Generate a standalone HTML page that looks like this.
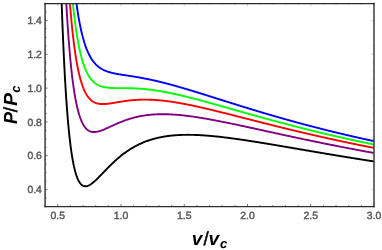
<!DOCTYPE html>
<html><head><meta charset="utf-8"><style>
html,body{margin:0;padding:0;background:#fff;}
svg{display:block;will-change:transform;}
text{font-family:"Liberation Sans",sans-serif;text-rendering:geometricPrecision;}
</style></head><body>
<svg width="382" height="250" viewBox="0 0 382 250">
<rect width="382" height="250" fill="#fff"/>
<defs><clipPath id="c"><rect x="45.1" y="3.55" width="328.9" height="203.0"/></clipPath></defs>
<g clip-path="url(#c)">
<path d="M59.83 -57.21 L60.48 -34.11 L61.12 -13.12 L61.77 5.97 L62.41 23.34 L63.06 39.14 L63.71 53.54 L64.35 66.64 L65.00 78.59 L65.65 89.46 L66.29 99.37 L66.94 108.39 L67.59 116.60 L68.23 124.08 L68.88 130.88 L69.53 137.06 L70.17 142.67 L70.82 147.76 L71.46 152.37 L72.11 156.55 L72.76 160.32 L73.40 163.72 L74.05 166.78 L74.70 169.53 L75.34 171.99 L75.99 174.18 L76.64 176.13 L77.28 177.85 L77.93 179.37 L78.58 180.70 L79.22 181.85 L79.87 182.84 L80.51 183.67 L81.16 184.38 L81.81 184.95 L82.45 185.41 L83.10 185.77 L83.75 186.02 L84.39 186.18 L85.04 186.26 L85.69 186.27 L86.33 186.20 L86.98 186.07 L87.63 185.89 L88.27 185.65 L88.92 185.35 L89.57 185.02 L90.21 184.64 L90.86 184.23 L91.50 183.78 L92.15 183.31 L92.80 182.80 L93.44 182.27 L94.09 181.72 L94.74 181.15 L95.38 180.56 L96.03 179.96 L96.68 179.34 L97.32 178.71 L97.97 178.07 L98.62 177.43 L99.26 176.77 L99.91 176.11 L100.55 175.44 L101.20 174.77 L101.85 174.10 L102.49 173.43 L103.14 172.75 L103.79 172.08 L104.43 171.40 L105.08 170.73 L105.73 170.06 L106.37 169.39 L107.02 168.73 L107.67 168.07 L108.31 167.41 L108.96 166.76 L109.60 166.11 L110.25 165.47 L110.90 164.84 L111.54 164.21 L112.19 163.58 L112.84 162.97 L113.48 162.36 L114.13 161.75 L114.78 161.16 L115.42 160.57 L116.07 159.98 L116.72 159.41 L117.36 158.84 L118.01 158.28 L118.66 157.73 L119.30 157.19 L119.95 156.65 L120.59 156.13 L121.24 155.61 L121.89 155.10 L122.53 154.59 L123.18 154.10 L123.83 153.61 L124.47 153.13 L125.12 152.66 L125.77 152.19 L126.41 151.74 L127.06 151.29 L127.71 150.85 L128.35 150.42 L129.00 149.99 L129.64 149.57 L130.29 149.16 L130.94 148.76 L131.58 148.37 L132.23 147.98 L132.88 147.60 L133.52 147.23 L134.17 146.86 L134.82 146.51 L135.46 146.16 L136.11 145.81 L136.76 145.47 L137.40 145.15 L138.05 144.82 L138.69 144.51 L139.34 144.20 L139.99 143.89 L140.63 143.60 L141.28 143.31 L141.93 143.02 L142.57 142.75 L143.22 142.48 L143.87 142.21 L144.51 141.95 L145.16 141.70 L145.81 141.45 L146.45 141.21 L147.10 140.98 L147.74 140.75 L148.39 140.52 L149.04 140.31 L149.68 140.09 L150.33 139.89 L150.98 139.68 L151.62 139.49 L152.27 139.29 L152.92 139.11 L153.56 138.93 L154.21 138.75 L154.86 138.58 L155.50 138.41 L156.15 138.25 L156.80 138.09 L157.44 137.94 L158.09 137.79 L158.73 137.64 L159.38 137.50 L160.03 137.37 L160.67 137.24 L161.32 137.11 L161.97 136.99 L162.61 136.87 L163.26 136.75 L163.91 136.64 L164.55 136.53 L165.20 136.43 L165.85 136.33 L166.49 136.24 L167.14 136.14 L167.78 136.06 L168.43 135.97 L169.08 135.89 L169.72 135.81 L170.37 135.74 L171.02 135.67 L171.66 135.60 L172.31 135.53 L172.96 135.47 L173.60 135.41 L174.25 135.36 L174.90 135.30 L175.54 135.25 L176.19 135.21 L176.83 135.16 L177.48 135.12 L178.13 135.09 L178.77 135.05 L179.42 135.02 L180.07 134.99 L180.71 134.96 L181.36 134.94 L182.01 134.91 L182.65 134.89 L183.30 134.88 L183.95 134.86 L184.59 134.85 L185.24 134.84 L185.89 134.83 L186.53 134.83 L187.18 134.82 L187.82 134.82 L188.47 134.82 L189.12 134.83 L189.76 134.83 L190.41 134.84 L191.06 134.85 L191.70 134.86 L192.35 134.87 L193.00 134.89 L193.64 134.90 L194.29 134.92 L194.94 134.94 L195.58 134.96 L196.23 134.99 L196.87 135.01 L197.52 135.04 L198.17 135.07 L198.81 135.10 L199.46 135.14 L200.11 135.17 L200.75 135.20 L201.40 135.24 L202.05 135.28 L202.69 135.32 L203.34 135.36 L203.99 135.41 L204.63 135.45 L205.28 135.50 L205.92 135.54 L206.57 135.59 L207.22 135.64 L207.86 135.69 L208.51 135.75 L209.16 135.80 L209.80 135.85 L210.45 135.91 L211.10 135.97 L211.74 136.03 L212.39 136.09 L213.04 136.15 L213.68 136.21 L214.33 136.27 L214.98 136.34 L215.62 136.40 L216.27 136.47 L216.91 136.53 L217.56 136.60 L218.21 136.67 L218.85 136.74 L219.50 136.81 L220.15 136.88 L220.79 136.96 L221.44 137.03 L222.09 137.10 L222.73 137.18 L223.38 137.26 L224.03 137.33 L224.67 137.41 L225.32 137.49 L225.96 137.57 L226.61 137.65 L227.26 137.73 L227.90 137.81 L228.55 137.89 L229.20 137.98 L229.84 138.06 L230.49 138.15 L231.14 138.23 L231.78 138.32 L232.43 138.40 L233.08 138.49 L233.72 138.58 L234.37 138.67 L235.01 138.76 L235.66 138.85 L236.31 138.94 L236.95 139.03 L237.60 139.12 L238.25 139.21 L238.89 139.30 L239.54 139.39 L240.19 139.49 L240.83 139.58 L241.48 139.68 L242.13 139.77 L242.77 139.87 L243.42 139.96 L244.06 140.06 L244.71 140.15 L245.36 140.25 L246.00 140.35 L246.65 140.45 L247.30 140.54 L247.94 140.64 L248.59 140.74 L249.24 140.84 L249.88 140.94 L250.53 141.04 L251.18 141.14 L251.82 141.24 L252.47 141.34 L253.12 141.44 L253.76 141.55 L254.41 141.65 L255.05 141.75 L255.70 141.85 L256.35 141.96 L256.99 142.06 L257.64 142.16 L258.29 142.27 L258.93 142.37 L259.58 142.48 L260.23 142.58 L260.87 142.69 L261.52 142.79 L262.17 142.90 L262.81 143.00 L263.46 143.11 L264.10 143.21 L264.75 143.32 L265.40 143.43 L266.04 143.53 L266.69 143.64 L267.34 143.75 L267.98 143.85 L268.63 143.96 L269.28 144.07 L269.92 144.17 L270.57 144.28 L271.22 144.39 L271.86 144.50 L272.51 144.61 L273.15 144.71 L273.80 144.82 L274.45 144.93 L275.09 145.04 L275.74 145.15 L276.39 145.26 L277.03 145.37 L277.68 145.48 L278.33 145.59 L278.97 145.70 L279.62 145.80 L280.27 145.91 L280.91 146.02 L281.56 146.13 L282.21 146.24 L282.85 146.35 L283.50 146.46 L284.14 146.57 L284.79 146.68 L285.44 146.79 L286.08 146.90 L286.73 147.01 L287.38 147.12 L288.02 147.23 L288.67 147.34 L289.32 147.45 L289.96 147.56 L290.61 147.68 L291.26 147.79 L291.90 147.90 L292.55 148.01 L293.19 148.12 L293.84 148.23 L294.49 148.34 L295.13 148.45 L295.78 148.56 L296.43 148.67 L297.07 148.78 L297.72 148.89 L298.37 149.00 L299.01 149.11 L299.66 149.22 L300.31 149.33 L300.95 149.44 L301.60 149.55 L302.24 149.66 L302.89 149.78 L303.54 149.89 L304.18 150.00 L304.83 150.11 L305.48 150.22 L306.12 150.33 L306.77 150.44 L307.42 150.55 L308.06 150.66 L308.71 150.77 L309.36 150.88 L310.00 150.99 L310.65 151.10 L311.30 151.21 L311.94 151.32 L312.59 151.43 L313.23 151.54 L313.88 151.65 L314.53 151.76 L315.17 151.87 L315.82 151.98 L316.47 152.09 L317.11 152.20 L317.76 152.30 L318.41 152.41 L319.05 152.52 L319.70 152.63 L320.35 152.74 L320.99 152.85 L321.64 152.96 L322.28 153.07 L322.93 153.18 L323.58 153.29 L324.22 153.39 L324.87 153.50 L325.52 153.61 L326.16 153.72 L326.81 153.83 L327.46 153.94 L328.10 154.04 L328.75 154.15 L329.40 154.26 L330.04 154.37 L330.69 154.48 L331.33 154.58 L331.98 154.69 L332.63 154.80 L333.27 154.91 L333.92 155.01 L334.57 155.12 L335.21 155.23 L335.86 155.34 L336.51 155.44 L337.15 155.55 L337.80 155.66 L338.45 155.76 L339.09 155.87 L339.74 155.97 L340.38 156.08 L341.03 156.19 L341.68 156.29 L342.32 156.40 L342.97 156.50 L343.62 156.61 L344.26 156.72 L344.91 156.82 L345.56 156.93 L346.20 157.03 L346.85 157.14 L347.50 157.24 L348.14 157.35 L348.79 157.45 L349.44 157.56 L350.08 157.66 L350.73 157.77 L351.37 157.87 L352.02 157.97 L352.67 158.08 L353.31 158.18 L353.96 158.29 L354.61 158.39 L355.25 158.49 L355.90 158.60 L356.55 158.70 L357.19 158.80 L357.84 158.91 L358.49 159.01 L359.13 159.11 L359.78 159.21 L360.42 159.32 L361.07 159.42 L361.72 159.52 L362.36 159.62 L363.01 159.73 L363.66 159.83 L364.30 159.93 L364.95 160.03 L365.60 160.13 L366.24 160.23 L366.89 160.33 L367.54 160.44 L368.18 160.54 L368.83 160.64 L369.47 160.74 L370.12 160.84 L370.77 160.94 L371.41 161.04 L372.06 161.14 L372.71 161.24 L373.35 161.34 L374.00 161.44" fill="none" stroke="#000000" stroke-width="1.9" stroke-linejoin="round"/>
<path d="M63.06 -68.96 L63.71 -51.98 L64.35 -36.41 L65.00 -22.12 L65.65 -8.99 L66.29 3.06 L66.94 14.14 L67.59 24.32 L68.23 33.69 L68.88 42.30 L69.53 50.22 L70.17 57.51 L70.82 64.21 L71.46 70.38 L72.11 76.05 L72.76 81.26 L73.40 86.05 L74.05 90.46 L74.70 94.50 L75.34 98.21 L75.99 101.62 L76.64 104.74 L77.28 107.60 L77.93 110.22 L78.58 112.61 L79.22 114.80 L79.87 116.79 L80.51 118.60 L81.16 120.25 L81.81 121.75 L82.45 123.10 L83.10 124.32 L83.75 125.42 L84.39 126.40 L85.04 127.28 L85.69 128.06 L86.33 128.76 L86.98 129.36 L87.63 129.90 L88.27 130.36 L88.92 130.75 L89.57 131.08 L90.21 131.36 L90.86 131.58 L91.50 131.75 L92.15 131.88 L92.80 131.97 L93.44 132.02 L94.09 132.03 L94.74 132.02 L95.38 131.97 L96.03 131.89 L96.68 131.79 L97.32 131.67 L97.97 131.53 L98.62 131.37 L99.26 131.19 L99.91 130.99 L100.55 130.78 L101.20 130.56 L101.85 130.33 L102.49 130.08 L103.14 129.83 L103.79 129.57 L104.43 129.30 L105.08 129.02 L105.73 128.74 L106.37 128.46 L107.02 128.17 L107.67 127.88 L108.31 127.59 L108.96 127.29 L109.60 126.99 L110.25 126.70 L110.90 126.40 L111.54 126.10 L112.19 125.80 L112.84 125.51 L113.48 125.21 L114.13 124.92 L114.78 124.63 L115.42 124.34 L116.07 124.05 L116.72 123.77 L117.36 123.49 L118.01 123.21 L118.66 122.93 L119.30 122.66 L119.95 122.39 L120.59 122.13 L121.24 121.87 L121.89 121.61 L122.53 121.36 L123.18 121.12 L123.83 120.87 L124.47 120.63 L125.12 120.40 L125.77 120.17 L126.41 119.94 L127.06 119.72 L127.71 119.51 L128.35 119.29 L129.00 119.09 L129.64 118.89 L130.29 118.69 L130.94 118.49 L131.58 118.31 L132.23 118.12 L132.88 117.94 L133.52 117.77 L134.17 117.60 L134.82 117.43 L135.46 117.27 L136.11 117.12 L136.76 116.97 L137.40 116.82 L138.05 116.68 L138.69 116.54 L139.34 116.41 L139.99 116.28 L140.63 116.15 L141.28 116.03 L141.93 115.92 L142.57 115.81 L143.22 115.70 L143.87 115.60 L144.51 115.50 L145.16 115.40 L145.81 115.31 L146.45 115.22 L147.10 115.14 L147.74 115.06 L148.39 114.99 L149.04 114.91 L149.68 114.85 L150.33 114.78 L150.98 114.72 L151.62 114.67 L152.27 114.61 L152.92 114.56 L153.56 114.52 L154.21 114.47 L154.86 114.44 L155.50 114.40 L156.15 114.37 L156.80 114.34 L157.44 114.31 L158.09 114.29 L158.73 114.27 L159.38 114.25 L160.03 114.24 L160.67 114.23 L161.32 114.22 L161.97 114.21 L162.61 114.21 L163.26 114.21 L163.91 114.22 L164.55 114.22 L165.20 114.23 L165.85 114.24 L166.49 114.26 L167.14 114.28 L167.78 114.29 L168.43 114.32 L169.08 114.34 L169.72 114.37 L170.37 114.40 L171.02 114.43 L171.66 114.46 L172.31 114.50 L172.96 114.54 L173.60 114.58 L174.25 114.62 L174.90 114.66 L175.54 114.71 L176.19 114.76 L176.83 114.81 L177.48 114.86 L178.13 114.92 L178.77 114.97 L179.42 115.03 L180.07 115.09 L180.71 115.15 L181.36 115.22 L182.01 115.28 L182.65 115.35 L183.30 115.42 L183.95 115.49 L184.59 115.56 L185.24 115.63 L185.89 115.71 L186.53 115.79 L187.18 115.87 L187.82 115.94 L188.47 116.03 L189.12 116.11 L189.76 116.19 L190.41 116.28 L191.06 116.37 L191.70 116.45 L192.35 116.54 L193.00 116.63 L193.64 116.73 L194.29 116.82 L194.94 116.91 L195.58 117.01 L196.23 117.11 L196.87 117.20 L197.52 117.30 L198.17 117.40 L198.81 117.51 L199.46 117.61 L200.11 117.71 L200.75 117.82 L201.40 117.92 L202.05 118.03 L202.69 118.14 L203.34 118.24 L203.99 118.35 L204.63 118.46 L205.28 118.57 L205.92 118.69 L206.57 118.80 L207.22 118.91 L207.86 119.03 L208.51 119.14 L209.16 119.26 L209.80 119.37 L210.45 119.49 L211.10 119.61 L211.74 119.73 L212.39 119.85 L213.04 119.97 L213.68 120.09 L214.33 120.21 L214.98 120.33 L215.62 120.46 L216.27 120.58 L216.91 120.70 L217.56 120.83 L218.21 120.95 L218.85 121.08 L219.50 121.21 L220.15 121.33 L220.79 121.46 L221.44 121.59 L222.09 121.72 L222.73 121.84 L223.38 121.97 L224.03 122.10 L224.67 122.23 L225.32 122.37 L225.96 122.50 L226.61 122.63 L227.26 122.76 L227.90 122.89 L228.55 123.02 L229.20 123.16 L229.84 123.29 L230.49 123.42 L231.14 123.56 L231.78 123.69 L232.43 123.83 L233.08 123.96 L233.72 124.10 L234.37 124.23 L235.01 124.37 L235.66 124.51 L236.31 124.64 L236.95 124.78 L237.60 124.92 L238.25 125.05 L238.89 125.19 L239.54 125.33 L240.19 125.47 L240.83 125.61 L241.48 125.74 L242.13 125.88 L242.77 126.02 L243.42 126.16 L244.06 126.30 L244.71 126.44 L245.36 126.58 L246.00 126.72 L246.65 126.86 L247.30 127.00 L247.94 127.14 L248.59 127.28 L249.24 127.42 L249.88 127.56 L250.53 127.70 L251.18 127.84 L251.82 127.98 L252.47 128.12 L253.12 128.26 L253.76 128.40 L254.41 128.54 L255.05 128.69 L255.70 128.83 L256.35 128.97 L256.99 129.11 L257.64 129.25 L258.29 129.39 L258.93 129.53 L259.58 129.68 L260.23 129.82 L260.87 129.96 L261.52 130.10 L262.17 130.24 L262.81 130.38 L263.46 130.53 L264.10 130.67 L264.75 130.81 L265.40 130.95 L266.04 131.09 L266.69 131.23 L267.34 131.38 L267.98 131.52 L268.63 131.66 L269.28 131.80 L269.92 131.94 L270.57 132.08 L271.22 132.23 L271.86 132.37 L272.51 132.51 L273.15 132.65 L273.80 132.79 L274.45 132.93 L275.09 133.07 L275.74 133.21 L276.39 133.36 L277.03 133.50 L277.68 133.64 L278.33 133.78 L278.97 133.92 L279.62 134.06 L280.27 134.20 L280.91 134.34 L281.56 134.48 L282.21 134.62 L282.85 134.76 L283.50 134.90 L284.14 135.04 L284.79 135.18 L285.44 135.32 L286.08 135.46 L286.73 135.60 L287.38 135.74 L288.02 135.88 L288.67 136.02 L289.32 136.16 L289.96 136.30 L290.61 136.44 L291.26 136.58 L291.90 136.72 L292.55 136.86 L293.19 136.99 L293.84 137.13 L294.49 137.27 L295.13 137.41 L295.78 137.55 L296.43 137.69 L297.07 137.82 L297.72 137.96 L298.37 138.10 L299.01 138.24 L299.66 138.37 L300.31 138.51 L300.95 138.65 L301.60 138.78 L302.24 138.92 L302.89 139.06 L303.54 139.19 L304.18 139.33 L304.83 139.47 L305.48 139.60 L306.12 139.74 L306.77 139.87 L307.42 140.01 L308.06 140.14 L308.71 140.28 L309.36 140.41 L310.00 140.55 L310.65 140.68 L311.30 140.82 L311.94 140.95 L312.59 141.09 L313.23 141.22 L313.88 141.35 L314.53 141.49 L315.17 141.62 L315.82 141.76 L316.47 141.89 L317.11 142.02 L317.76 142.15 L318.41 142.29 L319.05 142.42 L319.70 142.55 L320.35 142.68 L320.99 142.82 L321.64 142.95 L322.28 143.08 L322.93 143.21 L323.58 143.34 L324.22 143.47 L324.87 143.60 L325.52 143.73 L326.16 143.86 L326.81 143.99 L327.46 144.12 L328.10 144.25 L328.75 144.38 L329.40 144.51 L330.04 144.64 L330.69 144.77 L331.33 144.90 L331.98 145.03 L332.63 145.16 L333.27 145.29 L333.92 145.42 L334.57 145.54 L335.21 145.67 L335.86 145.80 L336.51 145.93 L337.15 146.05 L337.80 146.18 L338.45 146.31 L339.09 146.43 L339.74 146.56 L340.38 146.69 L341.03 146.81 L341.68 146.94 L342.32 147.06 L342.97 147.19 L343.62 147.32 L344.26 147.44 L344.91 147.57 L345.56 147.69 L346.20 147.81 L346.85 147.94 L347.50 148.06 L348.14 148.19 L348.79 148.31 L349.44 148.43 L350.08 148.56 L350.73 148.68 L351.37 148.80 L352.02 148.93 L352.67 149.05 L353.31 149.17 L353.96 149.29 L354.61 149.41 L355.25 149.54 L355.90 149.66 L356.55 149.78 L357.19 149.90 L357.84 150.02 L358.49 150.14 L359.13 150.26 L359.78 150.38 L360.42 150.50 L361.07 150.62 L361.72 150.74 L362.36 150.86 L363.01 150.98 L363.66 151.10 L364.30 151.22 L364.95 151.34 L365.60 151.46 L366.24 151.58 L366.89 151.69 L367.54 151.81 L368.18 151.93 L368.83 152.05 L369.47 152.16 L370.12 152.28 L370.77 152.40 L371.41 152.52 L372.06 152.63 L372.71 152.75 L373.35 152.86 L374.00 152.98" fill="none" stroke="#800080" stroke-width="1.9" stroke-linejoin="round"/>
<path d="M65.65 -68.07 L66.29 -54.72 L66.94 -42.41 L67.59 -31.05 L68.23 -20.55 L68.88 -10.85 L69.53 -1.88 L70.17 6.41 L70.82 14.08 L71.46 21.18 L72.11 27.75 L72.76 33.83 L73.40 39.45 L74.05 44.66 L74.70 49.48 L75.34 53.95 L75.99 58.08 L76.64 61.91 L77.28 65.45 L77.93 68.73 L78.58 71.76 L79.22 74.57 L79.87 77.16 L80.51 79.56 L81.16 81.78 L81.81 83.82 L82.45 85.71 L83.10 87.45 L83.75 89.05 L84.39 90.53 L85.04 91.89 L85.69 93.14 L86.33 94.29 L86.98 95.34 L87.63 96.30 L88.27 97.18 L88.92 97.98 L89.57 98.72 L90.21 99.38 L90.86 99.99 L91.50 100.53 L92.15 101.03 L92.80 101.47 L93.44 101.87 L94.09 102.22 L94.74 102.53 L95.38 102.81 L96.03 103.06 L96.68 103.27 L97.32 103.45 L97.97 103.60 L98.62 103.73 L99.26 103.84 L99.91 103.92 L100.55 103.99 L101.20 104.03 L101.85 104.06 L102.49 104.07 L103.14 104.07 L103.79 104.06 L104.43 104.04 L105.08 104.00 L105.73 103.95 L106.37 103.90 L107.02 103.84 L107.67 103.77 L108.31 103.69 L108.96 103.61 L109.60 103.52 L110.25 103.43 L110.90 103.34 L111.54 103.24 L112.19 103.13 L112.84 103.03 L113.48 102.92 L114.13 102.82 L114.78 102.71 L115.42 102.60 L116.07 102.49 L116.72 102.38 L117.36 102.27 L118.01 102.16 L118.66 102.05 L119.30 101.94 L119.95 101.84 L120.59 101.73 L121.24 101.63 L121.89 101.53 L122.53 101.43 L123.18 101.33 L123.83 101.23 L124.47 101.14 L125.12 101.04 L125.77 100.95 L126.41 100.87 L127.06 100.78 L127.71 100.70 L128.35 100.62 L129.00 100.55 L129.64 100.47 L130.29 100.40 L130.94 100.33 L131.58 100.27 L132.23 100.21 L132.88 100.15 L133.52 100.09 L134.17 100.04 L134.82 99.99 L135.46 99.95 L136.11 99.90 L136.76 99.86 L137.40 99.83 L138.05 99.79 L138.69 99.76 L139.34 99.73 L139.99 99.71 L140.63 99.69 L141.28 99.67 L141.93 99.65 L142.57 99.64 L143.22 99.63 L143.87 99.63 L144.51 99.62 L145.16 99.62 L145.81 99.62 L146.45 99.63 L147.10 99.64 L147.74 99.65 L148.39 99.66 L149.04 99.68 L149.68 99.70 L150.33 99.72 L150.98 99.75 L151.62 99.77 L152.27 99.80 L152.92 99.84 L153.56 99.87 L154.21 99.91 L154.86 99.95 L155.50 99.99 L156.15 100.04 L156.80 100.09 L157.44 100.14 L158.09 100.19 L158.73 100.24 L159.38 100.30 L160.03 100.36 L160.67 100.42 L161.32 100.49 L161.97 100.55 L162.61 100.62 L163.26 100.69 L163.91 100.76 L164.55 100.84 L165.20 100.91 L165.85 100.99 L166.49 101.07 L167.14 101.15 L167.78 101.24 L168.43 101.32 L169.08 101.41 L169.72 101.50 L170.37 101.59 L171.02 101.68 L171.66 101.78 L172.31 101.88 L172.96 101.97 L173.60 102.07 L174.25 102.17 L174.90 102.28 L175.54 102.38 L176.19 102.49 L176.83 102.59 L177.48 102.70 L178.13 102.81 L178.77 102.93 L179.42 103.04 L180.07 103.15 L180.71 103.27 L181.36 103.38 L182.01 103.50 L182.65 103.62 L183.30 103.74 L183.95 103.86 L184.59 103.99 L185.24 104.11 L185.89 104.24 L186.53 104.36 L187.18 104.49 L187.82 104.62 L188.47 104.75 L189.12 104.88 L189.76 105.01 L190.41 105.14 L191.06 105.28 L191.70 105.41 L192.35 105.55 L193.00 105.68 L193.64 105.82 L194.29 105.96 L194.94 106.10 L195.58 106.24 L196.23 106.38 L196.87 106.52 L197.52 106.66 L198.17 106.80 L198.81 106.95 L199.46 107.09 L200.11 107.24 L200.75 107.38 L201.40 107.53 L202.05 107.68 L202.69 107.82 L203.34 107.97 L203.99 108.12 L204.63 108.27 L205.28 108.42 L205.92 108.57 L206.57 108.72 L207.22 108.87 L207.86 109.03 L208.51 109.18 L209.16 109.33 L209.80 109.49 L210.45 109.64 L211.10 109.80 L211.74 109.95 L212.39 110.11 L213.04 110.26 L213.68 110.42 L214.33 110.57 L214.98 110.73 L215.62 110.89 L216.27 111.05 L216.91 111.21 L217.56 111.36 L218.21 111.52 L218.85 111.68 L219.50 111.84 L220.15 112.00 L220.79 112.16 L221.44 112.32 L222.09 112.48 L222.73 112.64 L223.38 112.81 L224.03 112.97 L224.67 113.13 L225.32 113.29 L225.96 113.45 L226.61 113.61 L227.26 113.78 L227.90 113.94 L228.55 114.10 L229.20 114.27 L229.84 114.43 L230.49 114.59 L231.14 114.76 L231.78 114.92 L232.43 115.08 L233.08 115.25 L233.72 115.41 L234.37 115.57 L235.01 115.74 L235.66 115.90 L236.31 116.07 L236.95 116.23 L237.60 116.40 L238.25 116.56 L238.89 116.73 L239.54 116.89 L240.19 117.06 L240.83 117.22 L241.48 117.39 L242.13 117.55 L242.77 117.72 L243.42 117.88 L244.06 118.05 L244.71 118.21 L245.36 118.38 L246.00 118.54 L246.65 118.70 L247.30 118.87 L247.94 119.03 L248.59 119.20 L249.24 119.36 L249.88 119.53 L250.53 119.69 L251.18 119.86 L251.82 120.02 L252.47 120.19 L253.12 120.35 L253.76 120.52 L254.41 120.68 L255.05 120.85 L255.70 121.01 L256.35 121.18 L256.99 121.34 L257.64 121.50 L258.29 121.67 L258.93 121.83 L259.58 122.00 L260.23 122.16 L260.87 122.32 L261.52 122.49 L262.17 122.65 L262.81 122.81 L263.46 122.98 L264.10 123.14 L264.75 123.30 L265.40 123.47 L266.04 123.63 L266.69 123.79 L267.34 123.95 L267.98 124.12 L268.63 124.28 L269.28 124.44 L269.92 124.60 L270.57 124.76 L271.22 124.93 L271.86 125.09 L272.51 125.25 L273.15 125.41 L273.80 125.57 L274.45 125.73 L275.09 125.89 L275.74 126.05 L276.39 126.21 L277.03 126.37 L277.68 126.53 L278.33 126.69 L278.97 126.85 L279.62 127.01 L280.27 127.17 L280.91 127.33 L281.56 127.49 L282.21 127.65 L282.85 127.81 L283.50 127.97 L284.14 128.13 L284.79 128.28 L285.44 128.44 L286.08 128.60 L286.73 128.76 L287.38 128.91 L288.02 129.07 L288.67 129.23 L289.32 129.38 L289.96 129.54 L290.61 129.70 L291.26 129.85 L291.90 130.01 L292.55 130.17 L293.19 130.32 L293.84 130.48 L294.49 130.63 L295.13 130.79 L295.78 130.94 L296.43 131.10 L297.07 131.25 L297.72 131.40 L298.37 131.56 L299.01 131.71 L299.66 131.86 L300.31 132.02 L300.95 132.17 L301.60 132.32 L302.24 132.47 L302.89 132.63 L303.54 132.78 L304.18 132.93 L304.83 133.08 L305.48 133.23 L306.12 133.38 L306.77 133.54 L307.42 133.69 L308.06 133.84 L308.71 133.99 L309.36 134.14 L310.00 134.29 L310.65 134.44 L311.30 134.58 L311.94 134.73 L312.59 134.88 L313.23 135.03 L313.88 135.18 L314.53 135.33 L315.17 135.48 L315.82 135.62 L316.47 135.77 L317.11 135.92 L317.76 136.06 L318.41 136.21 L319.05 136.36 L319.70 136.50 L320.35 136.65 L320.99 136.79 L321.64 136.94 L322.28 137.08 L322.93 137.23 L323.58 137.37 L324.22 137.52 L324.87 137.66 L325.52 137.81 L326.16 137.95 L326.81 138.09 L327.46 138.24 L328.10 138.38 L328.75 138.52 L329.40 138.67 L330.04 138.81 L330.69 138.95 L331.33 139.09 L331.98 139.23 L332.63 139.37 L333.27 139.52 L333.92 139.66 L334.57 139.80 L335.21 139.94 L335.86 140.08 L336.51 140.22 L337.15 140.36 L337.80 140.50 L338.45 140.63 L339.09 140.77 L339.74 140.91 L340.38 141.05 L341.03 141.19 L341.68 141.33 L342.32 141.46 L342.97 141.60 L343.62 141.74 L344.26 141.87 L344.91 142.01 L345.56 142.15 L346.20 142.28 L346.85 142.42 L347.50 142.55 L348.14 142.69 L348.79 142.83 L349.44 142.96 L350.08 143.09 L350.73 143.23 L351.37 143.36 L352.02 143.50 L352.67 143.63 L353.31 143.76 L353.96 143.90 L354.61 144.03 L355.25 144.16 L355.90 144.30 L356.55 144.43 L357.19 144.56 L357.84 144.69 L358.49 144.82 L359.13 144.95 L359.78 145.08 L360.42 145.22 L361.07 145.35 L361.72 145.48 L362.36 145.61 L363.01 145.74 L363.66 145.87 L364.30 146.00 L364.95 146.12 L365.60 146.25 L366.24 146.38 L366.89 146.51 L367.54 146.64 L368.18 146.77 L368.83 146.89 L369.47 147.02 L370.12 147.15 L370.77 147.27 L371.41 147.40 L372.06 147.53 L372.71 147.65 L373.35 147.78 L374.00 147.91" fill="none" stroke="#ff0000" stroke-width="1.9" stroke-linejoin="round"/>
<path d="M66.94 -80.11 L67.59 -67.96 L68.23 -56.70 L68.88 -46.28 L69.53 -36.61 L70.17 -27.65 L70.82 -19.34 L71.46 -11.62 L72.11 -4.45 L72.76 2.20 L73.40 8.39 L74.05 14.13 L74.70 19.47 L75.34 24.44 L75.99 29.06 L76.64 33.36 L77.28 37.35 L77.93 41.07 L78.58 44.53 L79.22 47.75 L79.87 50.74 L80.51 53.53 L81.16 56.12 L81.81 58.54 L82.45 60.78 L83.10 62.87 L83.75 64.81 L84.39 66.62 L85.04 68.30 L85.69 69.86 L86.33 71.31 L86.98 72.65 L87.63 73.90 L88.27 75.07 L88.92 76.14 L89.57 77.14 L90.21 78.07 L90.86 78.93 L91.50 79.72 L92.15 80.46 L92.80 81.14 L93.44 81.77 L94.09 82.35 L94.74 82.88 L95.38 83.37 L96.03 83.83 L96.68 84.25 L97.32 84.63 L97.97 84.98 L98.62 85.31 L99.26 85.60 L99.91 85.87 L100.55 86.12 L101.20 86.35 L101.85 86.55 L102.49 86.74 L103.14 86.91 L103.79 87.06 L104.43 87.19 L105.08 87.32 L105.73 87.43 L106.37 87.53 L107.02 87.61 L107.67 87.69 L108.31 87.76 L108.96 87.82 L109.60 87.87 L110.25 87.92 L110.90 87.96 L111.54 87.99 L112.19 88.02 L112.84 88.05 L113.48 88.07 L114.13 88.08 L114.78 88.10 L115.42 88.11 L116.07 88.12 L116.72 88.12 L117.36 88.13 L118.01 88.13 L118.66 88.13 L119.30 88.13 L119.95 88.13 L120.59 88.13 L121.24 88.13 L121.89 88.13 L122.53 88.13 L123.18 88.13 L123.83 88.14 L124.47 88.14 L125.12 88.14 L125.77 88.15 L126.41 88.15 L127.06 88.16 L127.71 88.16 L128.35 88.17 L129.00 88.19 L129.64 88.20 L130.29 88.21 L130.94 88.23 L131.58 88.25 L132.23 88.27 L132.88 88.29 L133.52 88.31 L134.17 88.34 L134.82 88.36 L135.46 88.39 L136.11 88.43 L136.76 88.46 L137.40 88.50 L138.05 88.53 L138.69 88.58 L139.34 88.62 L139.99 88.66 L140.63 88.71 L141.28 88.76 L141.93 88.81 L142.57 88.86 L143.22 88.92 L143.87 88.98 L144.51 89.04 L145.16 89.10 L145.81 89.17 L146.45 89.23 L147.10 89.30 L147.74 89.37 L148.39 89.45 L149.04 89.52 L149.68 89.60 L150.33 89.68 L150.98 89.76 L151.62 89.85 L152.27 89.93 L152.92 90.02 L153.56 90.11 L154.21 90.20 L154.86 90.29 L155.50 90.39 L156.15 90.49 L156.80 90.59 L157.44 90.69 L158.09 90.79 L158.73 90.89 L159.38 91.00 L160.03 91.11 L160.67 91.22 L161.32 91.33 L161.97 91.44 L162.61 91.56 L163.26 91.67 L163.91 91.79 L164.55 91.91 L165.20 92.03 L165.85 92.16 L166.49 92.28 L167.14 92.41 L167.78 92.53 L168.43 92.66 L169.08 92.79 L169.72 92.92 L170.37 93.06 L171.02 93.19 L171.66 93.33 L172.31 93.46 L172.96 93.60 L173.60 93.74 L174.25 93.88 L174.90 94.02 L175.54 94.16 L176.19 94.31 L176.83 94.45 L177.48 94.60 L178.13 94.75 L178.77 94.89 L179.42 95.04 L180.07 95.19 L180.71 95.34 L181.36 95.50 L182.01 95.65 L182.65 95.80 L183.30 95.96 L183.95 96.12 L184.59 96.27 L185.24 96.43 L185.89 96.59 L186.53 96.75 L187.18 96.91 L187.82 97.07 L188.47 97.23 L189.12 97.39 L189.76 97.56 L190.41 97.72 L191.06 97.88 L191.70 98.05 L192.35 98.22 L193.00 98.38 L193.64 98.55 L194.29 98.72 L194.94 98.89 L195.58 99.06 L196.23 99.22 L196.87 99.40 L197.52 99.57 L198.17 99.74 L198.81 99.91 L199.46 100.08 L200.11 100.25 L200.75 100.43 L201.40 100.60 L202.05 100.77 L202.69 100.95 L203.34 101.12 L203.99 101.30 L204.63 101.48 L205.28 101.65 L205.92 101.83 L206.57 102.01 L207.22 102.18 L207.86 102.36 L208.51 102.54 L209.16 102.72 L209.80 102.89 L210.45 103.07 L211.10 103.25 L211.74 103.43 L212.39 103.61 L213.04 103.79 L213.68 103.97 L214.33 104.15 L214.98 104.33 L215.62 104.51 L216.27 104.69 L216.91 104.87 L217.56 105.06 L218.21 105.24 L218.85 105.42 L219.50 105.60 L220.15 105.78 L220.79 105.96 L221.44 106.15 L222.09 106.33 L222.73 106.51 L223.38 106.69 L224.03 106.88 L224.67 107.06 L225.32 107.24 L225.96 107.42 L226.61 107.61 L227.26 107.79 L227.90 107.97 L228.55 108.15 L229.20 108.34 L229.84 108.52 L230.49 108.70 L231.14 108.89 L231.78 109.07 L232.43 109.25 L233.08 109.44 L233.72 109.62 L234.37 109.80 L235.01 109.99 L235.66 110.17 L236.31 110.35 L236.95 110.53 L237.60 110.72 L238.25 110.90 L238.89 111.08 L239.54 111.27 L240.19 111.45 L240.83 111.63 L241.48 111.81 L242.13 112.00 L242.77 112.18 L243.42 112.36 L244.06 112.54 L244.71 112.72 L245.36 112.91 L246.00 113.09 L246.65 113.27 L247.30 113.45 L247.94 113.63 L248.59 113.81 L249.24 114.00 L249.88 114.18 L250.53 114.36 L251.18 114.54 L251.82 114.72 L252.47 114.90 L253.12 115.08 L253.76 115.26 L254.41 115.44 L255.05 115.62 L255.70 115.80 L256.35 115.98 L256.99 116.16 L257.64 116.34 L258.29 116.52 L258.93 116.70 L259.58 116.88 L260.23 117.05 L260.87 117.23 L261.52 117.41 L262.17 117.59 L262.81 117.77 L263.46 117.94 L264.10 118.12 L264.75 118.30 L265.40 118.48 L266.04 118.65 L266.69 118.83 L267.34 119.01 L267.98 119.18 L268.63 119.36 L269.28 119.53 L269.92 119.71 L270.57 119.89 L271.22 120.06 L271.86 120.24 L272.51 120.41 L273.15 120.58 L273.80 120.76 L274.45 120.93 L275.09 121.11 L275.74 121.28 L276.39 121.45 L277.03 121.63 L277.68 121.80 L278.33 121.97 L278.97 122.14 L279.62 122.32 L280.27 122.49 L280.91 122.66 L281.56 122.83 L282.21 123.00 L282.85 123.17 L283.50 123.34 L284.14 123.51 L284.79 123.68 L285.44 123.85 L286.08 124.02 L286.73 124.19 L287.38 124.36 L288.02 124.53 L288.67 124.70 L289.32 124.87 L289.96 125.04 L290.61 125.20 L291.26 125.37 L291.90 125.54 L292.55 125.71 L293.19 125.87 L293.84 126.04 L294.49 126.20 L295.13 126.37 L295.78 126.54 L296.43 126.70 L297.07 126.87 L297.72 127.03 L298.37 127.20 L299.01 127.36 L299.66 127.52 L300.31 127.69 L300.95 127.85 L301.60 128.01 L302.24 128.18 L302.89 128.34 L303.54 128.50 L304.18 128.66 L304.83 128.83 L305.48 128.99 L306.12 129.15 L306.77 129.31 L307.42 129.47 L308.06 129.63 L308.71 129.79 L309.36 129.95 L310.00 130.11 L310.65 130.27 L311.30 130.43 L311.94 130.59 L312.59 130.75 L313.23 130.90 L313.88 131.06 L314.53 131.22 L315.17 131.38 L315.82 131.53 L316.47 131.69 L317.11 131.85 L317.76 132.00 L318.41 132.16 L319.05 132.32 L319.70 132.47 L320.35 132.63 L320.99 132.78 L321.64 132.93 L322.28 133.09 L322.93 133.24 L323.58 133.40 L324.22 133.55 L324.87 133.70 L325.52 133.86 L326.16 134.01 L326.81 134.16 L327.46 134.31 L328.10 134.46 L328.75 134.62 L329.40 134.77 L330.04 134.92 L330.69 135.07 L331.33 135.22 L331.98 135.37 L332.63 135.52 L333.27 135.67 L333.92 135.82 L334.57 135.97 L335.21 136.11 L335.86 136.26 L336.51 136.41 L337.15 136.56 L337.80 136.71 L338.45 136.85 L339.09 137.00 L339.74 137.15 L340.38 137.29 L341.03 137.44 L341.68 137.58 L342.32 137.73 L342.97 137.87 L343.62 138.02 L344.26 138.16 L344.91 138.31 L345.56 138.45 L346.20 138.60 L346.85 138.74 L347.50 138.88 L348.14 139.03 L348.79 139.17 L349.44 139.31 L350.08 139.45 L350.73 139.60 L351.37 139.74 L352.02 139.88 L352.67 140.02 L353.31 140.16 L353.96 140.30 L354.61 140.44 L355.25 140.58 L355.90 140.72 L356.55 140.86 L357.19 141.00 L357.84 141.14 L358.49 141.28 L359.13 141.41 L359.78 141.55 L360.42 141.69 L361.07 141.83 L361.72 141.97 L362.36 142.10 L363.01 142.24 L363.66 142.38 L364.30 142.51 L364.95 142.65 L365.60 142.78 L366.24 142.92 L366.89 143.05 L367.54 143.19 L368.18 143.32 L368.83 143.46 L369.47 143.59 L370.12 143.73 L370.77 143.86 L371.41 143.99 L372.06 144.12 L372.71 144.26 L373.35 144.39 L374.00 144.52" fill="none" stroke="#00ff00" stroke-width="1.9" stroke-linejoin="round"/>
<path d="M69.53 -71.35 L70.17 -61.71 L70.82 -52.75 L71.46 -44.42 L72.11 -36.65 L72.76 -29.42 L73.40 -22.68 L74.05 -16.40 L74.70 -10.54 L75.34 -5.07 L75.99 0.04 L76.64 4.80 L77.28 9.25 L77.93 13.41 L78.58 17.30 L79.22 20.93 L79.87 24.33 L80.51 27.50 L81.16 30.47 L81.81 33.25 L82.45 35.86 L83.10 38.29 L83.75 40.57 L84.39 42.70 L85.04 44.70 L85.69 46.57 L86.33 48.33 L86.98 49.97 L87.63 51.51 L88.27 52.95 L88.92 54.30 L89.57 55.57 L90.21 56.75 L90.86 57.87 L91.50 58.91 L92.15 59.89 L92.80 60.80 L93.44 61.66 L94.09 62.47 L94.74 63.23 L95.38 63.94 L96.03 64.60 L96.68 65.23 L97.32 65.82 L97.97 66.37 L98.62 66.88 L99.26 67.37 L99.91 67.83 L100.55 68.26 L101.20 68.66 L101.85 69.04 L102.49 69.40 L103.14 69.74 L103.79 70.05 L104.43 70.35 L105.08 70.63 L105.73 70.90 L106.37 71.15 L107.02 71.39 L107.67 71.62 L108.31 71.83 L108.96 72.03 L109.60 72.23 L110.25 72.41 L110.90 72.58 L111.54 72.75 L112.19 72.91 L112.84 73.06 L113.48 73.21 L114.13 73.35 L114.78 73.49 L115.42 73.62 L116.07 73.74 L116.72 73.86 L117.36 73.98 L118.01 74.10 L118.66 74.21 L119.30 74.32 L119.95 74.43 L120.59 74.53 L121.24 74.64 L121.89 74.74 L122.53 74.84 L123.18 74.94 L123.83 75.04 L124.47 75.14 L125.12 75.24 L125.77 75.34 L126.41 75.43 L127.06 75.53 L127.71 75.63 L128.35 75.73 L129.00 75.82 L129.64 75.92 L130.29 76.02 L130.94 76.12 L131.58 76.22 L132.23 76.32 L132.88 76.42 L133.52 76.53 L134.17 76.63 L134.82 76.74 L135.46 76.84 L136.11 76.95 L136.76 77.06 L137.40 77.17 L138.05 77.28 L138.69 77.39 L139.34 77.50 L139.99 77.62 L140.63 77.73 L141.28 77.85 L141.93 77.97 L142.57 78.09 L143.22 78.21 L143.87 78.33 L144.51 78.46 L145.16 78.58 L145.81 78.71 L146.45 78.84 L147.10 78.97 L147.74 79.10 L148.39 79.23 L149.04 79.37 L149.68 79.50 L150.33 79.64 L150.98 79.78 L151.62 79.92 L152.27 80.06 L152.92 80.20 L153.56 80.34 L154.21 80.49 L154.86 80.64 L155.50 80.78 L156.15 80.93 L156.80 81.08 L157.44 81.24 L158.09 81.39 L158.73 81.54 L159.38 81.70 L160.03 81.86 L160.67 82.01 L161.32 82.17 L161.97 82.33 L162.61 82.50 L163.26 82.66 L163.91 82.82 L164.55 82.99 L165.20 83.15 L165.85 83.32 L166.49 83.49 L167.14 83.66 L167.78 83.83 L168.43 84.00 L169.08 84.17 L169.72 84.35 L170.37 84.52 L171.02 84.69 L171.66 84.87 L172.31 85.05 L172.96 85.23 L173.60 85.40 L174.25 85.58 L174.90 85.76 L175.54 85.95 L176.19 86.13 L176.83 86.31 L177.48 86.49 L178.13 86.68 L178.77 86.86 L179.42 87.05 L180.07 87.23 L180.71 87.42 L181.36 87.61 L182.01 87.80 L182.65 87.99 L183.30 88.18 L183.95 88.37 L184.59 88.56 L185.24 88.75 L185.89 88.94 L186.53 89.13 L187.18 89.32 L187.82 89.52 L188.47 89.71 L189.12 89.91 L189.76 90.10 L190.41 90.30 L191.06 90.49 L191.70 90.69 L192.35 90.89 L193.00 91.08 L193.64 91.28 L194.29 91.48 L194.94 91.68 L195.58 91.87 L196.23 92.07 L196.87 92.27 L197.52 92.47 L198.17 92.67 L198.81 92.87 L199.46 93.07 L200.11 93.27 L200.75 93.47 L201.40 93.67 L202.05 93.87 L202.69 94.08 L203.34 94.28 L203.99 94.48 L204.63 94.68 L205.28 94.88 L205.92 95.09 L206.57 95.29 L207.22 95.49 L207.86 95.69 L208.51 95.90 L209.16 96.10 L209.80 96.30 L210.45 96.51 L211.10 96.71 L211.74 96.91 L212.39 97.12 L213.04 97.32 L213.68 97.52 L214.33 97.73 L214.98 97.93 L215.62 98.13 L216.27 98.34 L216.91 98.54 L217.56 98.75 L218.21 98.95 L218.85 99.15 L219.50 99.36 L220.15 99.56 L220.79 99.77 L221.44 99.97 L222.09 100.17 L222.73 100.38 L223.38 100.58 L224.03 100.78 L224.67 100.99 L225.32 101.19 L225.96 101.39 L226.61 101.60 L227.26 101.80 L227.90 102.00 L228.55 102.21 L229.20 102.41 L229.84 102.61 L230.49 102.82 L231.14 103.02 L231.78 103.22 L232.43 103.42 L233.08 103.63 L233.72 103.83 L234.37 104.03 L235.01 104.23 L235.66 104.43 L236.31 104.63 L236.95 104.84 L237.60 105.04 L238.25 105.24 L238.89 105.44 L239.54 105.64 L240.19 105.84 L240.83 106.04 L241.48 106.24 L242.13 106.44 L242.77 106.64 L243.42 106.84 L244.06 107.04 L244.71 107.24 L245.36 107.44 L246.00 107.64 L246.65 107.83 L247.30 108.03 L247.94 108.23 L248.59 108.43 L249.24 108.63 L249.88 108.82 L250.53 109.02 L251.18 109.22 L251.82 109.41 L252.47 109.61 L253.12 109.81 L253.76 110.00 L254.41 110.20 L255.05 110.39 L255.70 110.59 L256.35 110.78 L256.99 110.98 L257.64 111.17 L258.29 111.37 L258.93 111.56 L259.58 111.76 L260.23 111.95 L260.87 112.14 L261.52 112.34 L262.17 112.53 L262.81 112.72 L263.46 112.91 L264.10 113.10 L264.75 113.30 L265.40 113.49 L266.04 113.68 L266.69 113.87 L267.34 114.06 L267.98 114.25 L268.63 114.44 L269.28 114.63 L269.92 114.82 L270.57 115.01 L271.22 115.19 L271.86 115.38 L272.51 115.57 L273.15 115.76 L273.80 115.95 L274.45 116.13 L275.09 116.32 L275.74 116.51 L276.39 116.69 L277.03 116.88 L277.68 117.06 L278.33 117.25 L278.97 117.43 L279.62 117.62 L280.27 117.80 L280.91 117.99 L281.56 118.17 L282.21 118.35 L282.85 118.54 L283.50 118.72 L284.14 118.90 L284.79 119.08 L285.44 119.27 L286.08 119.45 L286.73 119.63 L287.38 119.81 L288.02 119.99 L288.67 120.17 L289.32 120.35 L289.96 120.53 L290.61 120.71 L291.26 120.89 L291.90 121.07 L292.55 121.24 L293.19 121.42 L293.84 121.60 L294.49 121.78 L295.13 121.95 L295.78 122.13 L296.43 122.31 L297.07 122.48 L297.72 122.66 L298.37 122.83 L299.01 123.01 L299.66 123.18 L300.31 123.36 L300.95 123.53 L301.60 123.71 L302.24 123.88 L302.89 124.05 L303.54 124.23 L304.18 124.40 L304.83 124.57 L305.48 124.74 L306.12 124.91 L306.77 125.08 L307.42 125.26 L308.06 125.43 L308.71 125.60 L309.36 125.77 L310.00 125.94 L310.65 126.10 L311.30 126.27 L311.94 126.44 L312.59 126.61 L313.23 126.78 L313.88 126.95 L314.53 127.11 L315.17 127.28 L315.82 127.45 L316.47 127.61 L317.11 127.78 L317.76 127.94 L318.41 128.11 L319.05 128.27 L319.70 128.44 L320.35 128.60 L320.99 128.77 L321.64 128.93 L322.28 129.09 L322.93 129.26 L323.58 129.42 L324.22 129.58 L324.87 129.74 L325.52 129.90 L326.16 130.07 L326.81 130.23 L327.46 130.39 L328.10 130.55 L328.75 130.71 L329.40 130.87 L330.04 131.03 L330.69 131.19 L331.33 131.34 L331.98 131.50 L332.63 131.66 L333.27 131.82 L333.92 131.98 L334.57 132.13 L335.21 132.29 L335.86 132.45 L336.51 132.60 L337.15 132.76 L337.80 132.92 L338.45 133.07 L339.09 133.23 L339.74 133.38 L340.38 133.53 L341.03 133.69 L341.68 133.84 L342.32 134.00 L342.97 134.15 L343.62 134.30 L344.26 134.45 L344.91 134.61 L345.56 134.76 L346.20 134.91 L346.85 135.06 L347.50 135.21 L348.14 135.36 L348.79 135.51 L349.44 135.66 L350.08 135.81 L350.73 135.96 L351.37 136.11 L352.02 136.26 L352.67 136.41 L353.31 136.56 L353.96 136.70 L354.61 136.85 L355.25 137.00 L355.90 137.15 L356.55 137.29 L357.19 137.44 L357.84 137.58 L358.49 137.73 L359.13 137.88 L359.78 138.02 L360.42 138.17 L361.07 138.31 L361.72 138.45 L362.36 138.60 L363.01 138.74 L363.66 138.89 L364.30 139.03 L364.95 139.17 L365.60 139.31 L366.24 139.46 L366.89 139.60 L367.54 139.74 L368.18 139.88 L368.83 140.02 L369.47 140.16 L370.12 140.30 L370.77 140.44 L371.41 140.58 L372.06 140.72 L372.71 140.86 L373.35 141.00 L374.00 141.14" fill="none" stroke="#0000ff" stroke-width="1.9" stroke-linejoin="round"/>
</g>
<g stroke="#555" stroke-width="0.8"><line x1="45.10" y1="206.55" x2="45.10" y2="205.05"/><line x1="57.75" y1="206.55" x2="57.75" y2="203.95"/><line x1="70.40" y1="206.55" x2="70.40" y2="205.05"/><line x1="83.05" y1="206.55" x2="83.05" y2="205.05"/><line x1="95.70" y1="206.55" x2="95.70" y2="205.05"/><line x1="108.35" y1="206.55" x2="108.35" y2="205.05"/><line x1="121.00" y1="206.55" x2="121.00" y2="203.95"/><line x1="133.65" y1="206.55" x2="133.65" y2="205.05"/><line x1="146.30" y1="206.55" x2="146.30" y2="205.05"/><line x1="158.95" y1="206.55" x2="158.95" y2="205.05"/><line x1="171.60" y1="206.55" x2="171.60" y2="205.05"/><line x1="184.25" y1="206.55" x2="184.25" y2="203.95"/><line x1="196.90" y1="206.55" x2="196.90" y2="205.05"/><line x1="209.55" y1="206.55" x2="209.55" y2="205.05"/><line x1="222.20" y1="206.55" x2="222.20" y2="205.05"/><line x1="234.85" y1="206.55" x2="234.85" y2="205.05"/><line x1="247.50" y1="206.55" x2="247.50" y2="203.95"/><line x1="260.15" y1="206.55" x2="260.15" y2="205.05"/><line x1="272.80" y1="206.55" x2="272.80" y2="205.05"/><line x1="285.45" y1="206.55" x2="285.45" y2="205.05"/><line x1="298.10" y1="206.55" x2="298.10" y2="205.05"/><line x1="310.75" y1="206.55" x2="310.75" y2="203.95"/><line x1="323.40" y1="206.55" x2="323.40" y2="205.05"/><line x1="336.05" y1="206.55" x2="336.05" y2="205.05"/><line x1="348.70" y1="206.55" x2="348.70" y2="205.05"/><line x1="361.35" y1="206.55" x2="361.35" y2="205.05"/><line x1="374.00" y1="206.55" x2="374.00" y2="203.95"/><line x1="45.10" y1="206.55" x2="46.60" y2="206.55"/><line x1="45.10" y1="198.09" x2="46.60" y2="198.09"/><line x1="45.10" y1="189.63" x2="47.70" y2="189.63"/><line x1="45.10" y1="181.18" x2="46.60" y2="181.18"/><line x1="45.10" y1="172.72" x2="46.60" y2="172.72"/><line x1="45.10" y1="164.26" x2="46.60" y2="164.26"/><line x1="45.10" y1="155.80" x2="47.70" y2="155.80"/><line x1="45.10" y1="147.34" x2="46.60" y2="147.34"/><line x1="45.10" y1="138.88" x2="46.60" y2="138.88"/><line x1="45.10" y1="130.43" x2="46.60" y2="130.43"/><line x1="45.10" y1="121.97" x2="47.70" y2="121.97"/><line x1="45.10" y1="113.51" x2="46.60" y2="113.51"/><line x1="45.10" y1="105.05" x2="46.60" y2="105.05"/><line x1="45.10" y1="96.59" x2="46.60" y2="96.59"/><line x1="45.10" y1="88.13" x2="47.70" y2="88.13"/><line x1="45.10" y1="79.68" x2="46.60" y2="79.68"/><line x1="45.10" y1="71.22" x2="46.60" y2="71.22"/><line x1="45.10" y1="62.76" x2="46.60" y2="62.76"/><line x1="45.10" y1="54.30" x2="47.70" y2="54.30"/><line x1="45.10" y1="45.84" x2="46.60" y2="45.84"/><line x1="45.10" y1="37.38" x2="46.60" y2="37.38"/><line x1="45.10" y1="28.92" x2="46.60" y2="28.92"/><line x1="45.10" y1="20.47" x2="47.70" y2="20.47"/><line x1="45.10" y1="12.01" x2="46.60" y2="12.01"/><line x1="45.10" y1="3.55" x2="46.60" y2="3.55"/></g>
<g stroke="#999" stroke-width="0.5"><line x1="45.10" y1="3.55" x2="45.10" y2="5.05"/><line x1="57.75" y1="3.55" x2="57.75" y2="6.15"/><line x1="70.40" y1="3.55" x2="70.40" y2="5.05"/><line x1="83.05" y1="3.55" x2="83.05" y2="5.05"/><line x1="95.70" y1="3.55" x2="95.70" y2="5.05"/><line x1="108.35" y1="3.55" x2="108.35" y2="5.05"/><line x1="121.00" y1="3.55" x2="121.00" y2="6.15"/><line x1="133.65" y1="3.55" x2="133.65" y2="5.05"/><line x1="146.30" y1="3.55" x2="146.30" y2="5.05"/><line x1="158.95" y1="3.55" x2="158.95" y2="5.05"/><line x1="171.60" y1="3.55" x2="171.60" y2="5.05"/><line x1="184.25" y1="3.55" x2="184.25" y2="6.15"/><line x1="196.90" y1="3.55" x2="196.90" y2="5.05"/><line x1="209.55" y1="3.55" x2="209.55" y2="5.05"/><line x1="222.20" y1="3.55" x2="222.20" y2="5.05"/><line x1="234.85" y1="3.55" x2="234.85" y2="5.05"/><line x1="247.50" y1="3.55" x2="247.50" y2="6.15"/><line x1="260.15" y1="3.55" x2="260.15" y2="5.05"/><line x1="272.80" y1="3.55" x2="272.80" y2="5.05"/><line x1="285.45" y1="3.55" x2="285.45" y2="5.05"/><line x1="298.10" y1="3.55" x2="298.10" y2="5.05"/><line x1="310.75" y1="3.55" x2="310.75" y2="6.15"/><line x1="323.40" y1="3.55" x2="323.40" y2="5.05"/><line x1="336.05" y1="3.55" x2="336.05" y2="5.05"/><line x1="348.70" y1="3.55" x2="348.70" y2="5.05"/><line x1="361.35" y1="3.55" x2="361.35" y2="5.05"/><line x1="374.00" y1="3.55" x2="374.00" y2="6.15"/><line x1="374.00" y1="206.55" x2="372.50" y2="206.55"/><line x1="374.00" y1="198.09" x2="372.50" y2="198.09"/><line x1="374.00" y1="189.63" x2="371.40" y2="189.63"/><line x1="374.00" y1="181.18" x2="372.50" y2="181.18"/><line x1="374.00" y1="172.72" x2="372.50" y2="172.72"/><line x1="374.00" y1="164.26" x2="372.50" y2="164.26"/><line x1="374.00" y1="155.80" x2="371.40" y2="155.80"/><line x1="374.00" y1="147.34" x2="372.50" y2="147.34"/><line x1="374.00" y1="138.88" x2="372.50" y2="138.88"/><line x1="374.00" y1="130.43" x2="372.50" y2="130.43"/><line x1="374.00" y1="121.97" x2="371.40" y2="121.97"/><line x1="374.00" y1="113.51" x2="372.50" y2="113.51"/><line x1="374.00" y1="105.05" x2="372.50" y2="105.05"/><line x1="374.00" y1="96.59" x2="372.50" y2="96.59"/><line x1="374.00" y1="88.13" x2="371.40" y2="88.13"/><line x1="374.00" y1="79.68" x2="372.50" y2="79.68"/><line x1="374.00" y1="71.22" x2="372.50" y2="71.22"/><line x1="374.00" y1="62.76" x2="372.50" y2="62.76"/><line x1="374.00" y1="54.30" x2="371.40" y2="54.30"/><line x1="374.00" y1="45.84" x2="372.50" y2="45.84"/><line x1="374.00" y1="37.38" x2="372.50" y2="37.38"/><line x1="374.00" y1="28.92" x2="372.50" y2="28.92"/><line x1="374.00" y1="20.47" x2="371.40" y2="20.47"/><line x1="374.00" y1="12.01" x2="372.50" y2="12.01"/><line x1="374.00" y1="3.55" x2="372.50" y2="3.55"/></g>
<g stroke="#3c3c3c" stroke-linecap="square"><line x1="45.1" y1="3.55" x2="45.1" y2="206.55" stroke-width="1.5"/><line x1="374.0" y1="3.55" x2="374.0" y2="206.55" stroke-width="1.5"/><line x1="45.1" y1="3.55" x2="374.0" y2="3.55" stroke-width="1.25" stroke="#2a2a2a"/><line x1="45.1" y1="206.55" x2="374.0" y2="206.55" stroke-width="1.35" stroke="#2e2e2e"/></g>
<g font-size="10.4" fill="#585858" stroke="#585858" stroke-width="0.45"><text x="57.75" y="219.45" text-anchor="middle">0.5</text><text x="121.00" y="219.45" text-anchor="middle">1.0</text><text x="184.25" y="219.45" text-anchor="middle">1.5</text><text x="247.50" y="219.45" text-anchor="middle">2.0</text><text x="310.75" y="219.45" text-anchor="middle">2.5</text><text x="374.00" y="219.45" text-anchor="middle">3.0</text><text x="41.9" y="193.18" text-anchor="end">0.4</text><text x="41.9" y="159.35" text-anchor="end">0.6</text><text x="41.9" y="125.52" text-anchor="end">0.8</text><text x="41.9" y="91.68" text-anchor="end">1.0</text><text x="41.9" y="57.85" text-anchor="end">1.2</text><text x="41.9" y="24.02" text-anchor="end">1.4</text></g>
<g font-weight="bold" fill="#000" font-size="19"><text x="191.8" y="244.6" font-style="italic">v</text><text x="203.5" y="244.6" font-weight="normal" stroke="#000" stroke-width="0.45">/</text><text x="208.4" y="244.6" font-style="italic">v</text><text x="220.0" y="247.6" font-size="13" font-style="italic">c</text></g>
<g transform="translate(17.4,124.0) rotate(-90)" font-weight="bold" fill="#000" font-size="19"><text x="0" y="0" font-style="italic" transform="scale(0.95,1)">P</text><text x="11.7" y="0" font-weight="normal" stroke="#000" stroke-width="0.45">/</text><text x="18.2" y="0" font-style="italic">P</text><text x="31.2" y="3.0" font-size="13" font-style="italic">c</text></g>
</svg>
</body></html>
